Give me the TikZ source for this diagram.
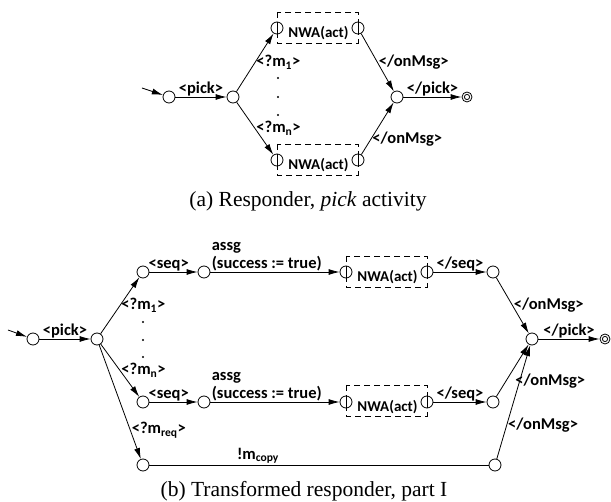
\documentclass[tikz,border=0pt]{standalone}
\usepackage{fontspec}
\setmainfont{Liberation Serif}
\newfontfamily\lblfamily{Carlito}
\usepackage{tikz}
\usetikzlibrary{arrows.meta}
\usetikzlibrary{calc,positioning}
\tikzset{%
  >={Latex[width=6pt,length=11pt]},
  % Specifications for style of nodes:
  state/.style = {circle, draw=black, minimum size=12pt, inner sep=0pt},
  port/.style = {state, path picture={\draw (path picture bounding box.north) -- (path picture bounding box.south);}},
  accept/.style = {circle, draw=black, minimum size=10pt, inner sep=0pt,
    path picture={\draw (path picture bounding box.center) circle (2.6pt);}},
  lbl/.style = {font=\lblfamily\bfseries\fontsize{16.5}{18}\selectfont, inner sep=1pt},
  nwa/.style = {lbl, font=\lblfamily\bfseries\fontsize{15}{18}\selectfont},
  nwabox/.style = {draw=black, dash pattern=on 6pt off 4pt},
  caption/.style = {font=\fontsize{21.5}{25}\selectfont},
}

\begin{document}
\begin{tikzpicture}[x=1pt, y=-1pt, line width=0.8pt]
  \useasboundingbox (0,0) rectangle (611,502);
  % (a) responder
  \coordinate (ainit) at (142,88);
  \node(a0)[state] at (169,97) {};
  \node(a1)[state] at (233,97) {};
  \node(ua1)[port] at (277,28) {};
  \node(ua2)[port] at (358,28) {};
  \node(la1)[port] at (277,160) {};
  \node(la2)[port] at (358,160) {};
  \node(a2)[state] at (397,97) {};
  \node(a3)[accept] at (467,97) {};
  \draw[nwabox] ($(ua1)+(0,-16)$) rectangle ($(ua2)+(0,15)$);
  \draw[nwabox] ($(la1)+(0,-16)$) rectangle ($(la2)+(0,15)$);
  \node(nwaua)[nwa] at ($(ua1)!0.5!(ua2)+(1,5)$) {NWA(act)};
  \node(nwala)[nwa] at ($(la1)!0.5!(la2)+(1,5)$) {NWA(act)};
  \foreach \y in {78,97,115} \fill (278,\y) circle (1.2pt);
  \draw[->](ainit) -- (a0);
  \draw[->](a0) -- node[lbl, above]{<pick>} (a1);
  \draw[->](a1) -- node[lbl, right]{<?m\textsubscript{1}>} (ua1);
  \draw[->](a1) -- node[lbl, right]{<?m\textsubscript{n}>} (la1);
  \draw[->](ua2) -- node[lbl, right]{</onMsg>} (a2);
  \draw[->](la2) -- node[lbl, right, pos=0.3]{</onMsg>} (a2);
  \draw[->](a2) -- node[lbl, above]{</pick>} (a3);
  \node(capa)[caption] at (308,201) {(a) Responder, \textit{pick} activity};

  % (b) transformed responder
  \coordinate (binit) at (8,330);
  \node(b0)[state] at (33,339) {};
  \node(b1)[state] at (97,339) {};
  \node(s1)[state] at (143,272) {};
  \node(t1)[state] at (204,272) {};
  \node(ub1)[port] at (346,272) {};
  \node(ub2)[port] at (427,272) {};
  \node(v1)[state] at (493,272) {};
  \node(s2)[state] at (143,402) {};
  \node(t2)[state] at (204,402) {};
  \node(lb1)[port] at (346,402) {};
  \node(lb2)[port] at (427,402) {};
  \node(v2)[state] at (493,402) {};
  \node(r1)[state] at (143,465) {};
  \node(r2)[state] at (495,465) {};
  \node(f1)[state] at (532,339) {};
  \node(f2)[accept] at (605,339) {};
  \draw[nwabox] ($(ub1)+(0,-16)$) rectangle ($(ub2)+(0,15)$);
  \draw[nwabox] ($(lb1)+(0,-17)$) rectangle ($(lb2)+(0,14)$);
  \node(nwaub)[nwa] at ($(ub1)!0.5!(ub2)+(1,5)$) {NWA(act)};
  \node(nwalb)[nwa] at ($(lb1)!0.5!(lb2)+(1,5)$) {NWA(act)};
  \foreach \y in {322,340,357} \fill (143,\y) circle (1.2pt);
  \draw[->](binit) -- (b0);
  \draw[->](b0) -- node[lbl, above]{<pick>} (b1);
  \draw[->](b1) -- node[lbl, right]{<?m\textsubscript{1}>} (s1);
  \draw[->](b1) -- node[lbl, right]{<?m\textsubscript{n}>} (s2);
  \draw[->](b1) -- node[lbl, right, pos=0.75]{<?m\textsubscript{req}>} (r1);
  \draw[->](s1) -- node[lbl, above, pos=0.4]{<seq>} (t1);
  \draw[->](s2) -- node[lbl, above, pos=0.4]{<seq>} (t2);
  \draw[->](t1) -- node[lbl, align=left, anchor=south west, pos=0]{assg\\(success := true)} (ub1);
  \draw[->](t2) -- node[lbl, align=left, anchor=south west, pos=0]{assg\\(success := true)} (lb1);
  \draw[->](ub2) -- node[lbl, above]{</seq>} (v1);
  \draw[->](lb2) -- node[lbl, above]{</seq>} (v2);
  \draw[->](v1) -- node[lbl, right]{</onMsg>} (f1);
  \draw[->](v2) -- node[lbl, right, pos=0.3, xshift=8pt]{</onMsg>} (f1);
  \draw(r1) -- node[lbl, above, pos=0.32]{!m\textsubscript{copy}} (r2);
  \draw[->](r2) -- node[lbl, right, pos=0.3]{</onMsg>} (f1);
  \draw[->](f1) -- node[lbl, above]{</pick>} (f2);
  \node(capb)[caption] at (304,491) {(b) Transformed responder, part I};
\end{tikzpicture}
\end{document}
